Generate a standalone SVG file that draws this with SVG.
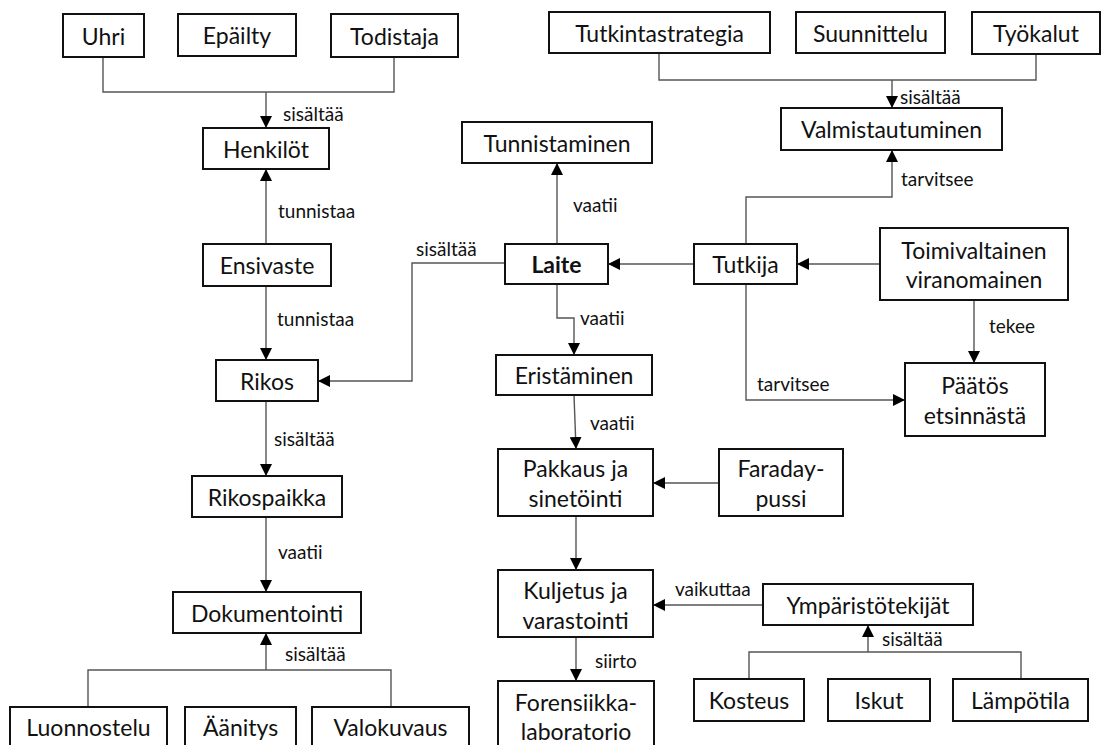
<svg xmlns="http://www.w3.org/2000/svg" width="1101" height="745" viewBox="0 0 1101 745">
<style>
.box rect{fill:#fff;stroke:#111;stroke-width:2}
.box text{font-family:Lato,"Liberation Sans",sans-serif;font-size:23px;fill:#111;text-anchor:middle;dominant-baseline:central}
.bold{font-weight:bold}
.conn path{fill:none;stroke:#555;stroke-width:1.4}
.lbl{font-family:Lato,"Liberation Sans",sans-serif;font-size:19px;fill:#111;dominant-baseline:central}
</style>
<defs>
<marker id="arr" markerUnits="userSpaceOnUse" markerWidth="13" markerHeight="12" refX="12" refY="6" orient="auto" viewBox="0 0 13 12">
<path d="M0,0 L12,6 L0,12 z" fill="#000"/>
</marker>
</defs>
<rect width="1101" height="745" fill="#fff"/>
<g id="connectors" class="conn">
<path d="M103,57 V92 H394 V57"/>
<path d="M266,92 V128" marker-end="url(#arr)"/>
<path d="M266,244 V169" marker-end="url(#arr)"/>
<path d="M266,286 V360" marker-end="url(#arr)"/>
<path d="M505,263 H412 V381 H318" marker-end="url(#arr)"/>
<path d="M266,401 V476" marker-end="url(#arr)"/>
<path d="M266,517 V592" marker-end="url(#arr)"/>
<path d="M88,707 V670 H391 V707"/>
<path d="M266,670 V633" marker-end="url(#arr)"/>
<path d="M557,244 V163" marker-end="url(#arr)"/>
<path d="M557,284 V318 H574 V355" marker-end="url(#arr)"/>
<path d="M574,395 L576,449" marker-end="url(#arr)"/>
<path d="M719,483 H653" marker-end="url(#arr)"/>
<path d="M576,516 V570" marker-end="url(#arr)"/>
<path d="M763,605 H653" marker-end="url(#arr)"/>
<path d="M576,637 V681" marker-end="url(#arr)"/>
<path d="M749,679 V652 H1021 V679"/>
<path d="M868,652 V625" marker-end="url(#arr)"/>
<path d="M694,264 H608" marker-end="url(#arr)"/>
<path d="M880,264 H797" marker-end="url(#arr)"/>
<path d="M746,244 V197 H892 V150" marker-end="url(#arr)"/>
<path d="M659,53 V80 H1036 V54"/>
<path d="M892,80 V108" marker-end="url(#arr)"/>
<path d="M974,300 V363" marker-end="url(#arr)"/>
<path d="M746,284 V400 H905" marker-end="url(#arr)"/>
<text class="lbl" x="283" y="113">sisältää</text>
<text class="lbl" x="278" y="210">tunnistaa</text>
<text class="lbl" x="277" y="318">tunnistaa</text>
<text class="lbl" x="416" y="248">sisältää</text>
<text class="lbl" x="274" y="438">sisältää</text>
<text class="lbl" x="278" y="551">vaatii</text>
<text class="lbl" x="285" y="653">sisältää</text>
<text class="lbl" x="573" y="204">vaatii</text>
<text class="lbl" x="580" y="317">vaatii</text>
<text class="lbl" x="590" y="422">vaatii</text>
<text class="lbl" x="675" y="588">vaikuttaa</text>
<text class="lbl" x="595" y="660">siirto</text>
<text class="lbl" x="882" y="638">sisältää</text>
<text class="lbl" x="901" y="178">tarvitsee</text>
<text class="lbl" x="900" y="96">sisältää</text>
<text class="lbl" x="989" y="325">tekee</text>
<text class="lbl" x="757" y="383">tarvitsee</text>
</g>
<g id="uhri" class="box"><rect x="63" y="14" width="81" height="43"/><text x="103.5" y="35.5">Uhri</text></g>
<g id="epailty" class="box"><rect x="178" y="14" width="118" height="42"/><text x="237" y="35">Epäilty</text></g>
<g id="todistaja" class="box"><rect x="331" y="14" width="127" height="43"/><text x="394.5" y="35.5">Todistaja</text></g>
<g id="henkilot" class="box"><rect x="203" y="128" width="126" height="41"/><text x="266" y="148.5">Henkilöt</text></g>
<g id="ensivaste" class="box"><rect x="203" y="244" width="128" height="42"/><text x="267" y="265">Ensivaste</text></g>
<g id="rikos" class="box"><rect x="216" y="360" width="102" height="41"/><text x="267" y="380.5">Rikos</text></g>
<g id="rikospaikka" class="box"><rect x="192" y="476" width="150" height="41"/><text x="267" y="496.5">Rikospaikka</text></g>
<g id="dokumentointi" class="box"><rect x="173" y="592" width="188" height="41"/><text x="267" y="612.5">Dokumentointi</text></g>
<g id="luonnostelu" class="box"><rect x="10" y="707" width="157" height="45"/><text x="88.5" y="727">Luonnostelu</text></g>
<g id="aanitys" class="box"><rect x="185" y="707" width="111" height="45"/><text x="240.5" y="727">Äänitys</text></g>
<g id="valokuvaus" class="box"><rect x="312" y="707" width="157" height="45"/><text x="390.5" y="727">Valokuvaus</text></g>
<g id="tutkintastrategia" class="box"><rect x="549" y="12" width="221" height="41"/><text x="659.5" y="32.5">Tutkintastrategia</text></g>
<g id="suunnittelu" class="box"><rect x="796" y="12" width="149" height="41"/><text x="870.5" y="32.5">Suunnittelu</text></g>
<g id="tyokalut" class="box"><rect x="972" y="12" width="128" height="42"/><text x="1036" y="33">Työkalut</text></g>
<g id="valmistautuminen" class="box"><rect x="781" y="108" width="221" height="42"/><text x="891.5" y="129">Valmistautuminen</text></g>
<g id="tunnistaminen" class="box"><rect x="462" y="122" width="190" height="41"/><text x="557" y="142.5">Tunnistaminen</text></g>
<g id="laite" class="box"><rect x="505" y="244" width="103" height="40"/><text class="bold" x="556.5" y="264">Laite</text></g>
<g id="tutkija" class="box"><rect x="694" y="244" width="103" height="40"/><text x="745.5" y="264">Tutkija</text></g>
<g id="toimivaltainen" class="box"><rect x="880" y="228" width="188" height="72"/><text x="974" y="250">Toimivaltainen</text><text x="974" y="279">viranomainen</text></g>
<g id="paatos" class="box"><rect x="905" y="363" width="140" height="73"/><text x="975" y="385">Päätös</text><text x="975" y="415">etsinnästä</text></g>
<g id="eristaminen" class="box"><rect x="496" y="355" width="156" height="40"/><text x="574" y="375">Eristäminen</text></g>
<g id="pakkaus" class="box"><rect x="498" y="449" width="155" height="67"/><text x="575.5" y="468">Pakkaus ja</text><text x="575.5" y="498">sinetöinti</text></g>
<g id="faraday" class="box"><rect x="719" y="449" width="124" height="67"/><text x="781" y="468">Faraday-</text><text x="781" y="498">pussi</text></g>
<g id="kuljetus" class="box"><rect x="498" y="570" width="155" height="67"/><text x="575.5" y="590">Kuljetus ja</text><text x="575.5" y="620">varastointi</text></g>
<g id="forensiikka" class="box"><rect x="498" y="681" width="156" height="72"/><text x="576" y="702">Forensiikka-</text><text x="576" y="731">laboratorio</text></g>
<g id="ymparisto" class="box"><rect x="763" y="584" width="210" height="41"/><text x="868" y="604.5">Ympäristötekijät</text></g>
<g id="kosteus" class="box"><rect x="694" y="679" width="110" height="42"/><text x="749" y="700">Kosteus</text></g>
<g id="iskut" class="box"><rect x="828" y="679" width="102" height="42"/><text x="879" y="700">Iskut</text></g>
<g id="lampotila" class="box"><rect x="953" y="679" width="135" height="42"/><text x="1020.5" y="700">Lämpötila</text></g>
</svg>
